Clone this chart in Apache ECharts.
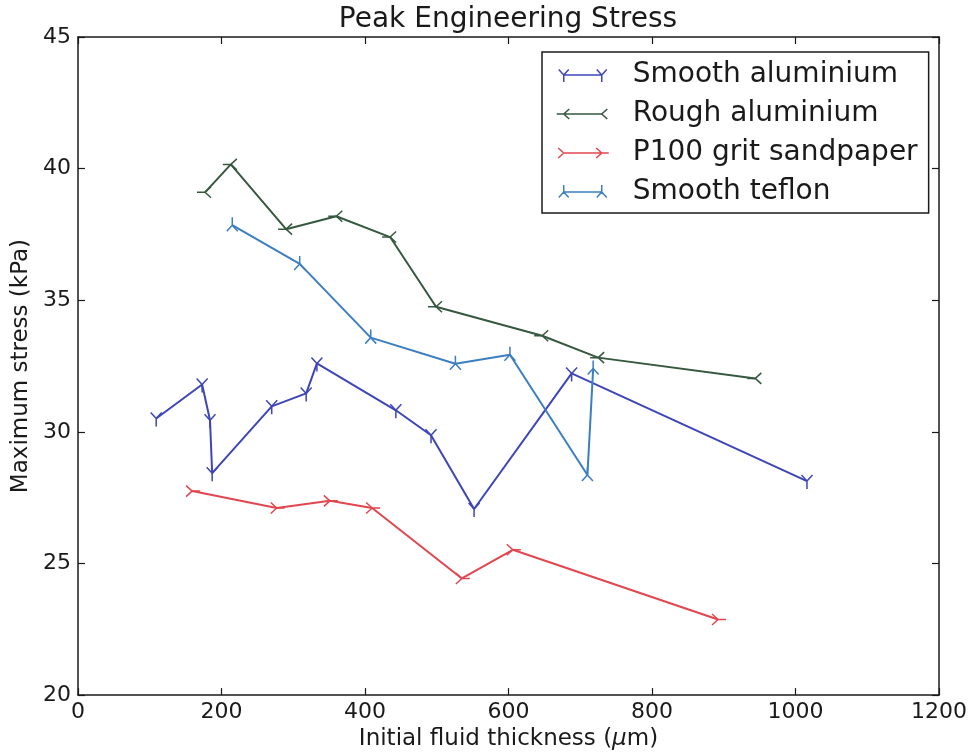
<!DOCTYPE html>
<html>
<head>
<meta charset="utf-8">
<script src="https://cdn.jsdelivr.net/npm/echarts@6/dist/echarts.min.js"></script>
<style>
  html, body { margin: 0; padding: 0; background: #fff; }
  #chart { width: 978px; height: 756px; }
</style>
</head>
<body>
<div id="chart"></div>
<script>
// Peak engineering stress vs. initial fluid thickness, four surfaces
const seriesNames = ['Smooth aluminium', 'Rough aluminium', 'P100 grit sandpaper', 'Smooth teflon'];

const smoothAlX = [109, 173, 184, 187, 270, 318, 333, 443, 492, 552, 688, 1016];
const smoothAlY = [30.51, 31.80, 30.44, 28.43, 30.97, 31.46, 32.60, 30.82, 29.87, 27.07, 32.22, 28.13];

const roughAlX = [177, 213, 290, 360, 435, 499, 647, 725, 944];
const roughAlY = [39.10, 40.16, 37.70, 38.19, 37.40, 34.75, 33.65, 32.82, 32.03];

const sandX = [159, 277, 351, 410, 535, 606, 892];
const sandY = [27.75, 27.11, 27.38, 27.11, 24.43, 25.52, 22.87];

const teflonX = [215, 309, 408, 526, 602, 710, 718];
const teflonY = [37.85, 36.38, 33.58, 32.59, 32.93, 28.36, 32.41];

const xTicks = [0, 200, 400, 600, 800, 1000, 1200];
const yTicks = [20, 25, 30, 35, 40, 45];

const colors = ['#3d45b9', '#35583f', '#e2464f', '#3b7ec1'];
const FONT = 'DejaVu Sans';
const INK = '#1a1a1a';

// Arm/stem offsets of a "tri" marker, in pixels, for each pointing direction
function triArms(dir, s, a, b) {
  if (dir === 'down') return [[0, s], [-a, -b], [a, -b]];
  if (dir === 'up') return [[0, -s], [-a, b], [a, b]];
  if (dir === 'left') return [[-s, 0], [b, -a], [b, a]];
  return [[s, 0], [-b, -a], [-b, a]];
}

// Marker path; leading moves pin the bounding box so the centre sits on the point
function triPath(dir) {
  const s = 8;
  let d = `M${-s},${-s} M${s},${s} `;
  triArms(dir, s, 5.5, 6).forEach(p => { d += `M0,0 L${p[0]},${p[1]} `; });
  return 'path://' + d.trim();
}

// Legend glyph: short line with a marker at each end
function legendPath(dir) {
  const W = 52, H = 16, cy = 8;
  const ends = [7, 45];
  let d = `M0,0 M${W},${H} M${ends[0]},${cy} L${ends[1]},${cy} `;
  ends.forEach(cx => {
    triArms(dir, 7, 5, 5.5).forEach(p => { d += `M${cx},${cy} L${cx + p[0]},${cy + p[1]} `; });
  });
  return 'path://' + d.trim();
}

const markerDirs = ['down', 'left', 'right', 'up'];
const xs = [smoothAlX, roughAlX, sandX, teflonX];
const ys = [smoothAlY, roughAlY, sandY, teflonY];

const series = seriesNames.map((name, i) => ({
  name: name,
  type: 'line',
  data: xs[i].map((x, k) => [x, ys[i][k]]),
  symbol: triPath(markerDirs[i]),
  symbolSize: 16,
  showAllSymbol: true,
  lineStyle: { color: colors[i], width: 2 },
  itemStyle: { color: 'rgba(0,0,0,0)', borderColor: colors[i], borderWidth: 1.5 },
  emphasis: { disabled: true },
  z: 2 + i
}));

const axisLine = { show: true, onZero: false, lineStyle: { color: INK, width: 1.5 } };
const tickStyle = { show: true, inside: true, length: 7, lineStyle: { color: INK, width: 1.2 } };
const plainNumber = v => String(v);

const chart = echarts.init(document.getElementById('chart'), null, { renderer: 'canvas' });
chart.setOption({
  animation: false,
  backgroundColor: '#ffffff',
  title: {
    text: 'Peak Engineering Stress',
    left: 508, top: 6, textAlign: 'center', padding: 0,
    textStyle: { fontFamily: FONT, fontSize: 28, fontWeight: 'normal', color: INK }
  },
  grid: { left: 78, right: 39, top: 37, bottom: 58, containLabel: false },
  legend: {
    orient: 'vertical',
    left: 542, top: 52,
    padding: [8, 11, 6, 14],
    itemGap: 9,
    itemWidth: 52, itemHeight: 16,
    borderColor: INK, borderWidth: 1.5, borderRadius: 0,
    backgroundColor: '#ffffff',
    selectedMode: false,
    textStyle: { fontFamily: FONT, fontSize: 28, lineHeight: 30, color: INK, padding: [0, 0, 0, 19] },
    data: seriesNames.map((name, i) => ({
      name: name,
      icon: legendPath(markerDirs[i]),
      itemStyle: { color: 'rgba(0,0,0,0)', borderColor: colors[i], borderWidth: 1.5 }
    }))
  },
  xAxis: [
    {
      type: 'value', position: 'bottom',
      min: xTicks[0], max: xTicks[xTicks.length - 1], interval: xTicks[1] - xTicks[0],
      name: 'Initial fluid thickness ({i|μ}m)',
      nameLocation: 'middle', nameGap: 30,
      nameTextStyle: {
        fontFamily: FONT, fontSize: 23, color: INK,
        rich: { i: { fontFamily: FONT, fontSize: 23, fontStyle: 'italic', color: INK } }
      },
      axisLine: axisLine, axisTick: tickStyle,
      axisLabel: { fontFamily: FONT, fontSize: 22, color: INK, margin: 6, formatter: plainNumber },
      splitLine: { show: false }
    },
    {
      type: 'value', position: 'top',
      min: xTicks[0], max: xTicks[xTicks.length - 1], interval: xTicks[1] - xTicks[0],
      axisLine: axisLine, axisTick: tickStyle,
      axisLabel: { show: false }, splitLine: { show: false }
    }
  ],
  yAxis: [
    {
      type: 'value', position: 'left',
      min: yTicks[0], max: yTicks[yTicks.length - 1], interval: yTicks[1] - yTicks[0],
      name: 'Maximum stress (kPa)',
      nameLocation: 'middle', nameGap: 45, nameRotate: 90,
      nameTextStyle: { fontFamily: FONT, fontSize: 23, color: INK },
      axisLine: axisLine, axisTick: tickStyle,
      axisLabel: { fontFamily: FONT, fontSize: 22, color: INK, margin: 7, formatter: plainNumber },
      splitLine: { show: false }
    },
    {
      type: 'value', position: 'right',
      min: yTicks[0], max: yTicks[yTicks.length - 1], interval: yTicks[1] - yTicks[0],
      axisLine: axisLine, axisTick: tickStyle,
      axisLabel: { show: false }, splitLine: { show: false }
    }
  ],
  series: series
});
</script>
</body>
</html>
